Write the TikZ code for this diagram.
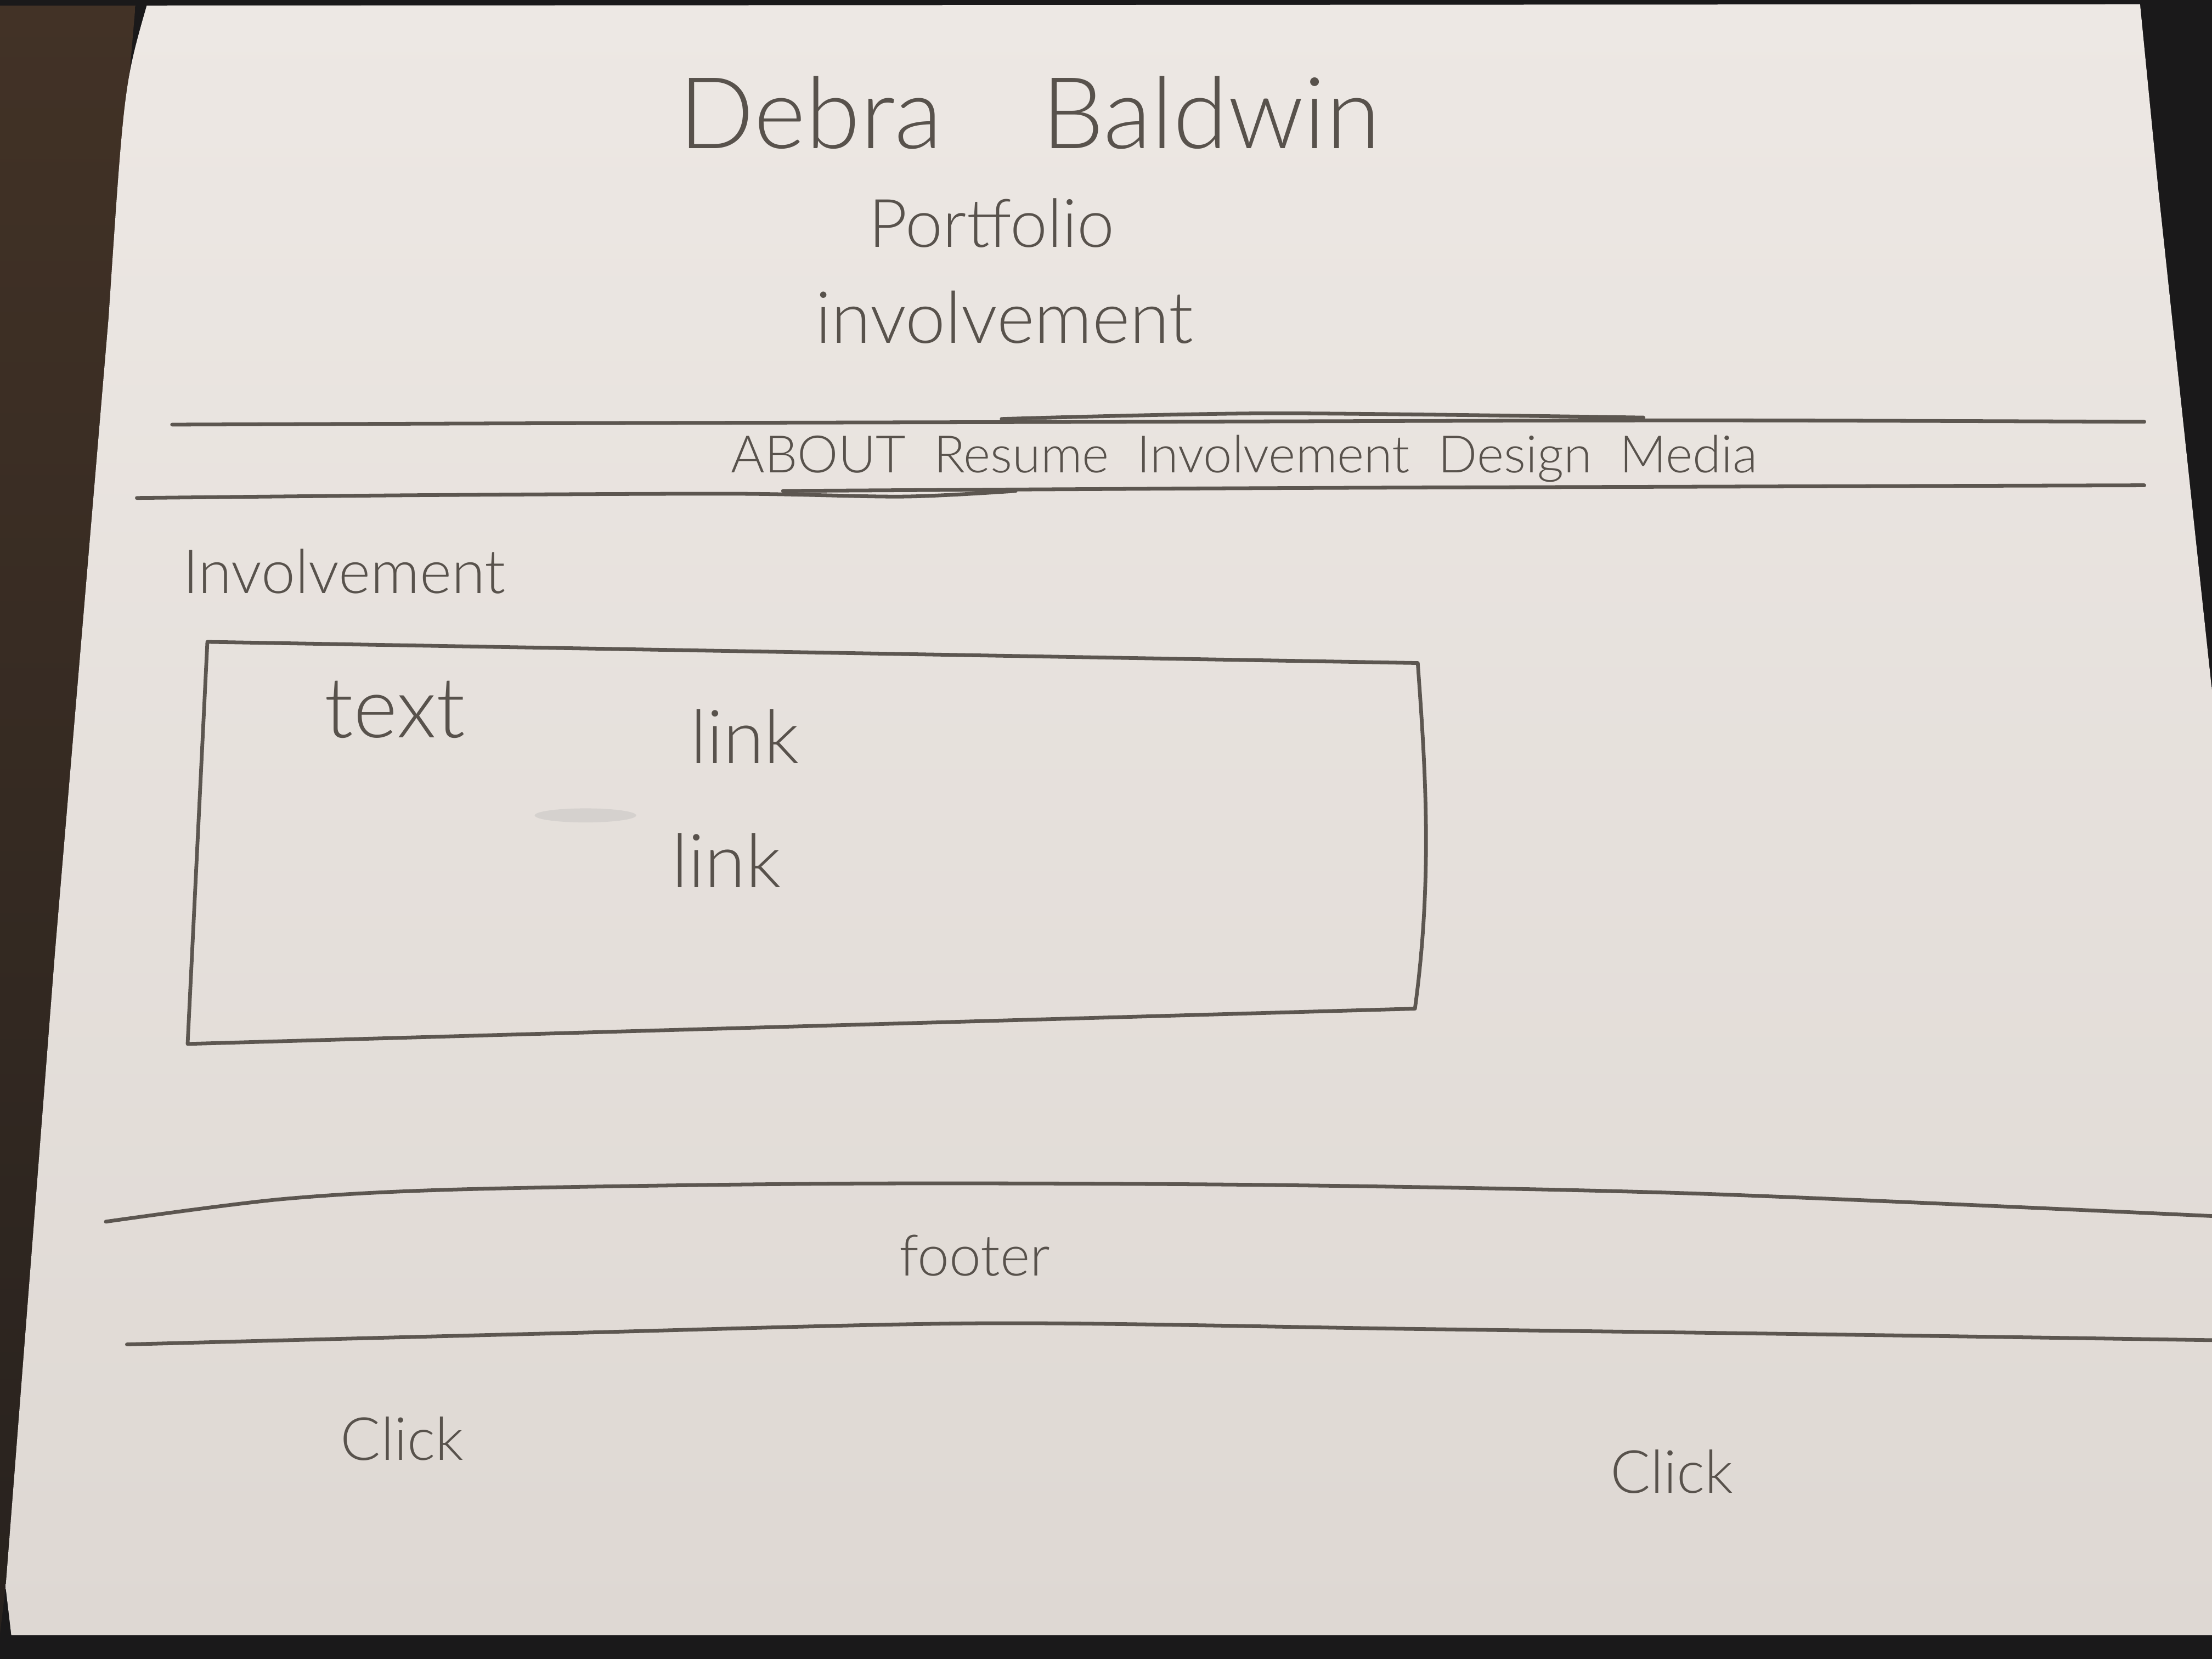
\documentclass[tikz,border=0pt]{standalone}
\usepackage{fontspec}
\setmainfont{Lato}[UprightFont={* Light}]
\definecolor{pencil}{RGB}{92,86,80}
\definecolor{lead}{RGB}{88,82,76}
\definecolor{paperhi}{RGB}{237,232,228}
\definecolor{paperlo}{RGB}{222,216,211}
\definecolor{wood}{RGB}{66,50,38}
\definecolor{woodlo}{RGB}{40,34,30}
\definecolor{desk}{RGB}{26,25,26}
\begin{document}
\begin{tikzpicture}[x=0.01cm,y=-0.01cm,
  stroke/.style={draw=pencil,line width=0.75pt,line cap=round,line join=round},
  hand/.style={text=lead,inner sep=0pt,anchor=center}]
% desk and sheet of paper
\fill[desk] (0,0) rectangle (1568,1176);
\shade[top color=wood,bottom color=woodlo]
  (0,4) -- (96,4) -- (77,225) -- (39,675) -- (4,1125) -- (0,1158) -- cycle;
\shade[top color=paperhi,bottom color=paperlo]
  (104,4) -- (1517,3) -- (1530,135) -- (1568,490)
  -- (1568,1159) -- (8,1159) -- (4,1125) -- (39,675) -- (77,225)
  .. controls (88,60) .. cycle;
\useasboundingbox (0,0) rectangle (1568,1176);

% header texts
\node[hand,font=\fontsize{20}{24}\selectfont] (name) at (730,80) {Debra\quad Baldwin};
\node[hand,font=\fontsize{13.5}{16}\selectfont] (portfolio) at (703,158) {Portfolio};
\node[hand,font=\fontsize{14.5}{17}\selectfont] (pagetitle) at (712,225) {involvement};

% navigation bar rules
\draw[stroke] plot[smooth] coordinates {(122,301) (400,300) (800,299) (1200,298) (1520,299)};
\draw[stroke] plot[smooth] coordinates {(710,297) (900,293) (1165,296)};
\draw[stroke] plot[smooth] coordinates {(97,353) (300,351) (520,350) (640,352) (720,348)};
\draw[stroke] plot[smooth] coordinates {(555,348) (900,346) (1200,345) (1520,344)};
\node[hand,font=\fontsize{10.4}{13}\selectfont] (nav) at (882,325)
  {ABOUT\ \ Resume\ \ Involvement\ \ Design\ \ Media};

% section heading and content box
\node[hand,font=\fontsize{12.3}{15}\selectfont] (section) at (244,405) {Involvement};
\draw[stroke] (147,455) -- (1005,470)
  .. controls (1010,540) and (1016,620) .. (1003,715)
  -- (133,740) -- cycle;
\node[hand,font=\fontsize{17}{20}\selectfont] (body) at (280,503) {text};
\node[hand,font=\fontsize{15}{18}\selectfont] (linkA) at (528,522) {link};
\node[hand,font=\fontsize{15}{18}\selectfont] (linkB) at (515,610) {link};
\fill[pencil!35,opacity=0.5] (415,578) ellipse (36 and 5);

% footer rules and texts
\draw[stroke] plot[smooth] coordinates {(75,866) (200,850) (330,843) (600,839) (900,840) (1200,846) (1568,862)};
\node[hand,font=\fontsize{11.5}{14}\selectfont] (footer) at (691,890) {footer};
\draw[stroke] plot[smooth] coordinates {(90,953) (400,945) (700,938) (1000,942) (1300,946) (1568,950)};
\node[hand,font=\fontsize{12}{15}\selectfont] (clickA) at (285,1020) {Click};
\node[hand,font=\fontsize{12}{15}\selectfont] (clickB) at (1185,1043) {Click};
\end{tikzpicture}
\end{document}
